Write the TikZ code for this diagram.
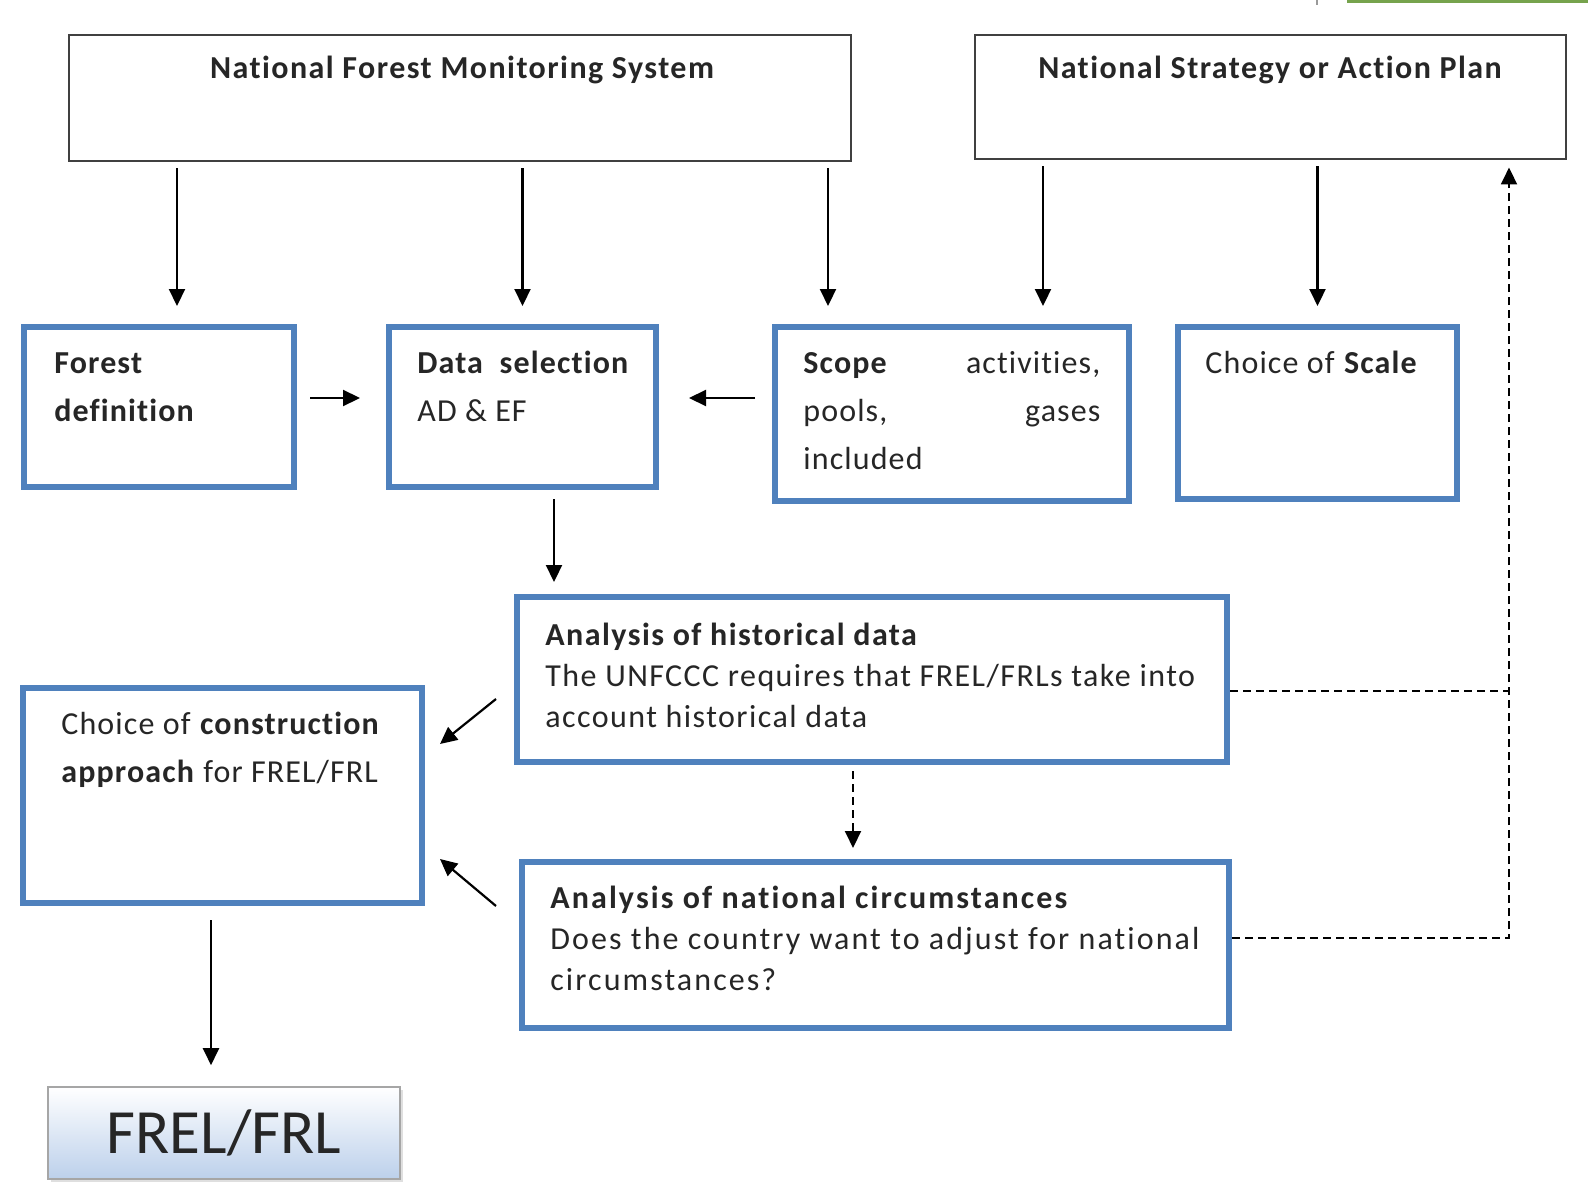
\documentclass[tikz,border=0pt]{standalone}
\usepackage{fontspec}
\setmainfont{Carlito}[Ligatures=NoCommon]
\usetikzlibrary{arrows.meta,shadows}
\definecolor{boxblue}{RGB}{79,129,189}
\definecolor{bargreen}{RGB}{118,163,77}
\definecolor{frelblue}{RGB}{188,208,235}
\newcommand\boxfont{\fontsize{16}{24}\selectfont\addfontfeature{LetterSpace=3.5}}
\newcommand\headfont{\fontsize{16}{24}\selectfont\addfontfeature{LetterSpace=4.5}}
\newcommand\anafont{\fontsize{16}{20.5}\selectfont\addfontfeature{LetterSpace=4.5}}
\begin{document}
\begin{tikzpicture}[
  x=0.5pt,
  y=-0.5pt,
  source/.style={rectangle,draw=black!75,line width=1pt,inner sep=0pt},
  stage/.style={rectangle,draw=boxblue,line width=3pt,fill=white,inner sep=0pt},
  boxtext/.style={anchor=north west,inner sep=0pt,align=left,font=\boxfont,text=black!85},
  anatext/.style={anchor=north west,inner sep=0pt,align=left,font=\anafont,text=black!85},
  headtext/.style={anchor=base,inner sep=0pt,font=\headfont\bfseries,text=black!85},
  flow/.style={draw=black,line width=1.1pt,-{Triangle[length=8.5pt,width=8pt]}},
  hint/.style={draw=black,line width=1pt,dash pattern=on 4pt off 2.5pt}
]
  \useasboundingbox (0,0) rectangle (1588,1182);
  \fill[bargreen] (1347,0) rectangle (1588,3);
  \draw[black!40,line width=0.6pt] (1317,0)--(1317,5);

  \node[source,minimum width=391pt,minimum height=63pt] (nfms) at (460,98.5) {};
  \node[headtext] (nfmshead) at (462,79) {National Forest Monitoring System};
  \node[source,minimum width=295.5pt,minimum height=62pt] (nsap) at (1270,97.5) {};
  \node[headtext] (nsaphead) at (1270,79) {National Strategy or Action Plan};

  \node[stage,minimum width=135pt,minimum height=80pt] (fordef) at (159,407) {};
  \node[boxtext] (fordeftext) at (54,339) {\strut\textbf{Forest}\\\textbf{definition}};
  \node[stage,minimum width=133.5pt,minimum height=80pt] (datasel) at (522.5,407) {};
  \node[boxtext] (dataseltext) at (417,339) {\strut\textbf{Data\ \ selection}\\AD \& EF};
  \node[stage,minimum width=177pt,minimum height=87pt] (scope) at (952,414) {};
  \node[boxtext,text width=148.5pt] (scopetext) at (803,339)
    {\strut\textbf{Scope}\hfill activities,\\pools,\hfill gases\\included};
  \node[stage,minimum width=139.5pt,minimum height=86pt] (scale) at (1317.5,413) {};
  \node[boxtext] (scaletext) at (1205,339) {\strut Choice of \textbf{Scale}};

  \node[stage,minimum width=355pt,minimum height=82.5pt] (hist) at (872,679.5) {};
  \node[anatext] (histtext) at (545,616)
    {\strut\textbf{Analysis of historical data}\\The UNFCCC requires that FREL/FRLs take into\\account historical data};
  \node[stage,minimum width=353.5pt,minimum height=83pt] (natc) at (875.5,945) {};
  \node[anatext,font=\anafont\addfontfeature{LetterSpace=6.5}] (natctext) at (550,879)
    {\strut\textbf{Analysis of national circumstances}\\Does the country want to adjust for national\\circumstances?};
  \node[stage,minimum width=199.5pt,minimum height=107.5pt] (constr) at (222.5,795.5) {};
  \node[boxtext] (constrtext) at (61,700)
    {\strut Choice of \textbf{construction}\\\textbf{approach} for FREL/FRL};

  \node[rectangle,draw=black!35,line width=0.8pt,top color=white,bottom color=frelblue,
    drop shadow={shadow xshift=1.5pt,shadow yshift=-1.5pt,opacity=0.25},
    minimum width=176pt,minimum height=46pt,inner sep=0pt,
    font=\fontsize{31.5}{36}\selectfont,text=black!85] (frel) at (224,1133) {FREL/FRL};

  \draw[flow,shorten <=3pt,shorten >=9pt] ([xshift=9pt]fordef.north |- nfms.south) -- ([xshift=9pt]fordef.north);
  \draw[flow,shorten <=3pt,shorten >=9pt] (datasel.north |- nfms.south) -- (datasel.north);
  \draw[flow,shorten <=3pt,shorten >=9pt] ([xshift=-62pt]scope.north |- nfms.south) -- ([xshift=-62pt]scope.north);
  \draw[flow,shorten <=3pt,shorten >=9pt] ([xshift=45.5pt]scope.north |- nsap.south) -- ([xshift=45.5pt]scope.north);
  \draw[flow,shorten <=3pt,shorten >=9pt] (scale.north |- nsap.south) -- (scale.north);

  \draw[flow,shorten <=6.5pt,shorten >=13pt] ([yshift=4.5pt]fordef.east) -- ([yshift=4.5pt]datasel.west);
  \draw[flow,shorten <=8.5pt,shorten >=15pt] ([yshift=8pt]scope.west) -- ([yshift=8pt]scope.west -| datasel.east);
  \draw[flow,shorten <=4.5pt,shorten >=6pt] ([xshift=15.75pt]datasel.south) -- ([xshift=15.75pt]datasel.south |- hist.north);
  \draw[flow,hint,shorten <=3pt,shorten >=5.5pt] ([xshift=-9.5pt]hist.south) -- ([xshift=-9.5pt]hist.south |- natc.north);

  \draw[flow] ([shift={(-9pt,-9.75pt)}]hist.west) -- ([shift={(7.5pt,25.75pt)}]constr.east);
  \draw[flow] ([shift={(-11.5pt,19.5pt)}]natc.west) -- ([shift={(7.5pt,-31.75pt)}]constr.east);
  \draw[flow,shorten <=7pt,shorten >=10.5pt] ([xshift=-5.75pt]constr.south) -- ([xshift=-5.75pt]constr.south |- frel.north);

  \coordinate (rail) at ([xshift=119.5pt]nsap.south);
  \draw[hint] ([yshift=-5.75pt]hist.east) -- ([yshift=-5.75pt]hist.east -| rail);
  \draw[flow,hint,shorten >=3.5pt] ([yshift=3.5pt]natc.east) -| (rail);
\end{tikzpicture}
\end{document}
